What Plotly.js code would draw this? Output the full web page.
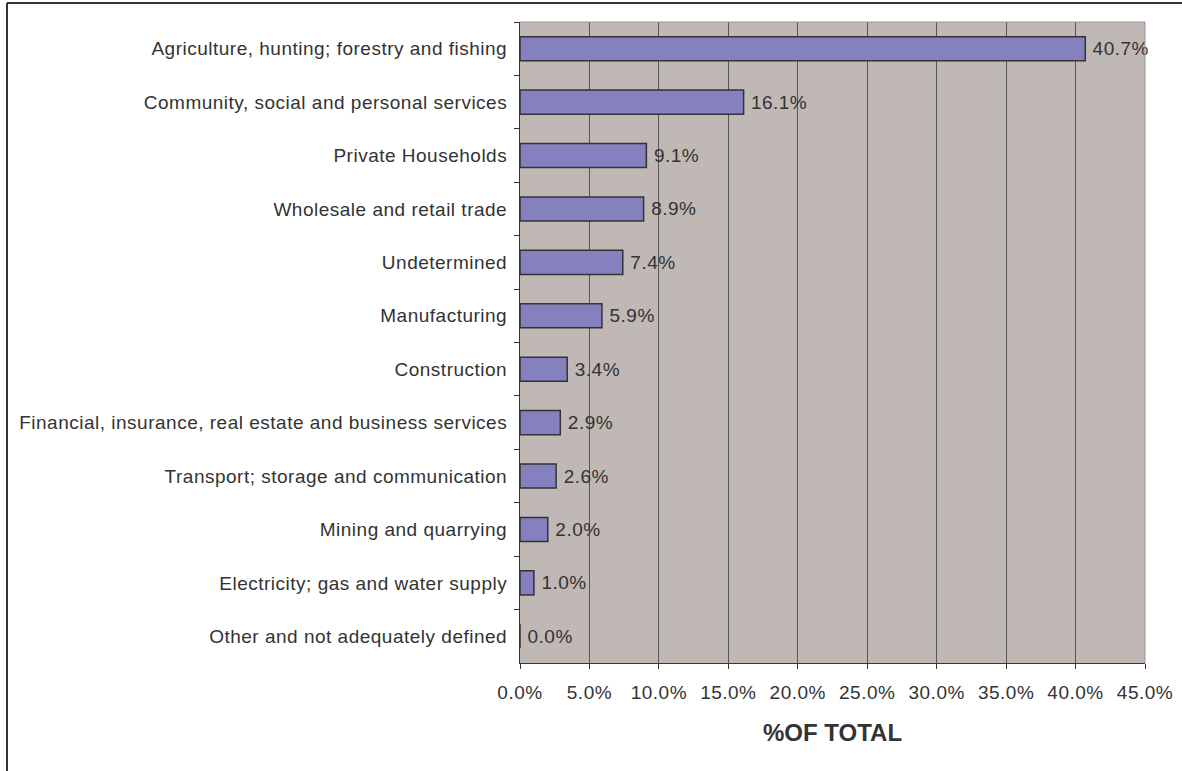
<!DOCTYPE html>
<html><head><meta charset="utf-8">
<script src="https://cdn.plot.ly/plotly-3.0.1.min.js"></script>
<style>
html,body{margin:0;padding:0;background:#fff}
#chart{width:1182px;height:771px}
#chart .xtick text, #chart .ytick text, #chart text.bartext{letter-spacing:0.5px}
</style>
</head><body><div id="chart"></div>
<script>
const categories = [
  "Agriculture, hunting; forestry and fishing",
  "Community, social and personal services",
  "Private Households",
  "Wholesale and retail trade",
  "Undetermined",
  "Manufacturing",
  "Construction",
  "Financial, insurance, real estate and business services",
  "Transport; storage and communication",
  "Mining and quarrying",
  "Electricity; gas and water supply",
  "Other and not adequately defined"
];
const shares = [0.407, 0.161, 0.091, 0.089, 0.074, 0.059, 0.034, 0.029, 0.026, 0.020, 0.010, 0.000];
const xTicks = [0, 0.05, 0.10, 0.15, 0.20, 0.25, 0.30, 0.35, 0.40, 0.45];

const font = {family: "Liberation Sans, Arial, sans-serif", color: "#333333", size: 19};

const trace = {
  type: "bar",
  orientation: "h",
  y: categories,
  x: shares,
  width: 0.45,
  marker: {color: "#8580BE", line: {color: "#333333", width: 1.5}},
  text: shares.map(v => "\u00a0" + (v * 100).toFixed(1) + "%"),
  textposition: "outside",
  cliponaxis: false,
  textfont: font,
  hoverinfo: "none"
};

const layout = {
  width: 1182, height: 771,
  margin: {l: 520, r: 37, t: 22, b: 108},
  paper_bgcolor: "#ffffff",
  plot_bgcolor: "#C0B8B5",
  showlegend: false,
  font: font,
  bargap: 0.55,
  xaxis: {
    range: [0, 0.45],
    tickvals: xTicks,
    tickformat: ".1%",
    showgrid: true, gridcolor: "#555555", gridwidth: 1,
    zeroline: false,
    showline: true, linecolor: "#333333", linewidth: 1,
    ticks: "outside", ticklen: 5, tickcolor: "#333333",
    ticklabelstandoff: 7,
    tickfont: font,
    title: {text: "<b>%OF TOTAL</b>", font: {family: "Liberation Sans, Arial, sans-serif", size: 24, color: "#333333"}, standoff: 22},
    fixedrange: true
  },
  yaxis: {
    autorange: "reversed",
    type: "category",
    showgrid: false,
    zeroline: false,
    showline: true, linecolor: "#333333", linewidth: 1,
    ticks: "outside", ticklen: 5, tickcolor: "#333333",
    tickson: "boundaries",
    ticklabelstandoff: 8,
    tickfont: font,
    fixedrange: true
  },
  shapes: [
    {type: "line", xref: "paper", yref: "paper", x0: 1, x1: 1, y0: 0, y1: 1, line: {color: "#9a9290", width: 1}},
    {type: "line", xref: "paper", yref: "paper", x0: 0, x1: 1, y0: 1, y1: 1, line: {color: "#9a9290", width: 1}},
    {type: "line", xref: "paper", yref: "paper", x0: -513/625, x1: 1182/625 - 520/625 + 1, y0: 1 + 19/641, y1: 1 + 19/641, line: {color: "#333333", width: 2}},
    {type: "line", xref: "paper", yref: "paper", x0: -513/625, x1: -513/625, y0: 1 + 19/641, y1: -110/641, line: {color: "#333333", width: 2}}
  ]
};

Plotly.newPlot("chart", [trace], layout, {displayModeBar: false, staticPlot: true});
</script>
</body></html>
